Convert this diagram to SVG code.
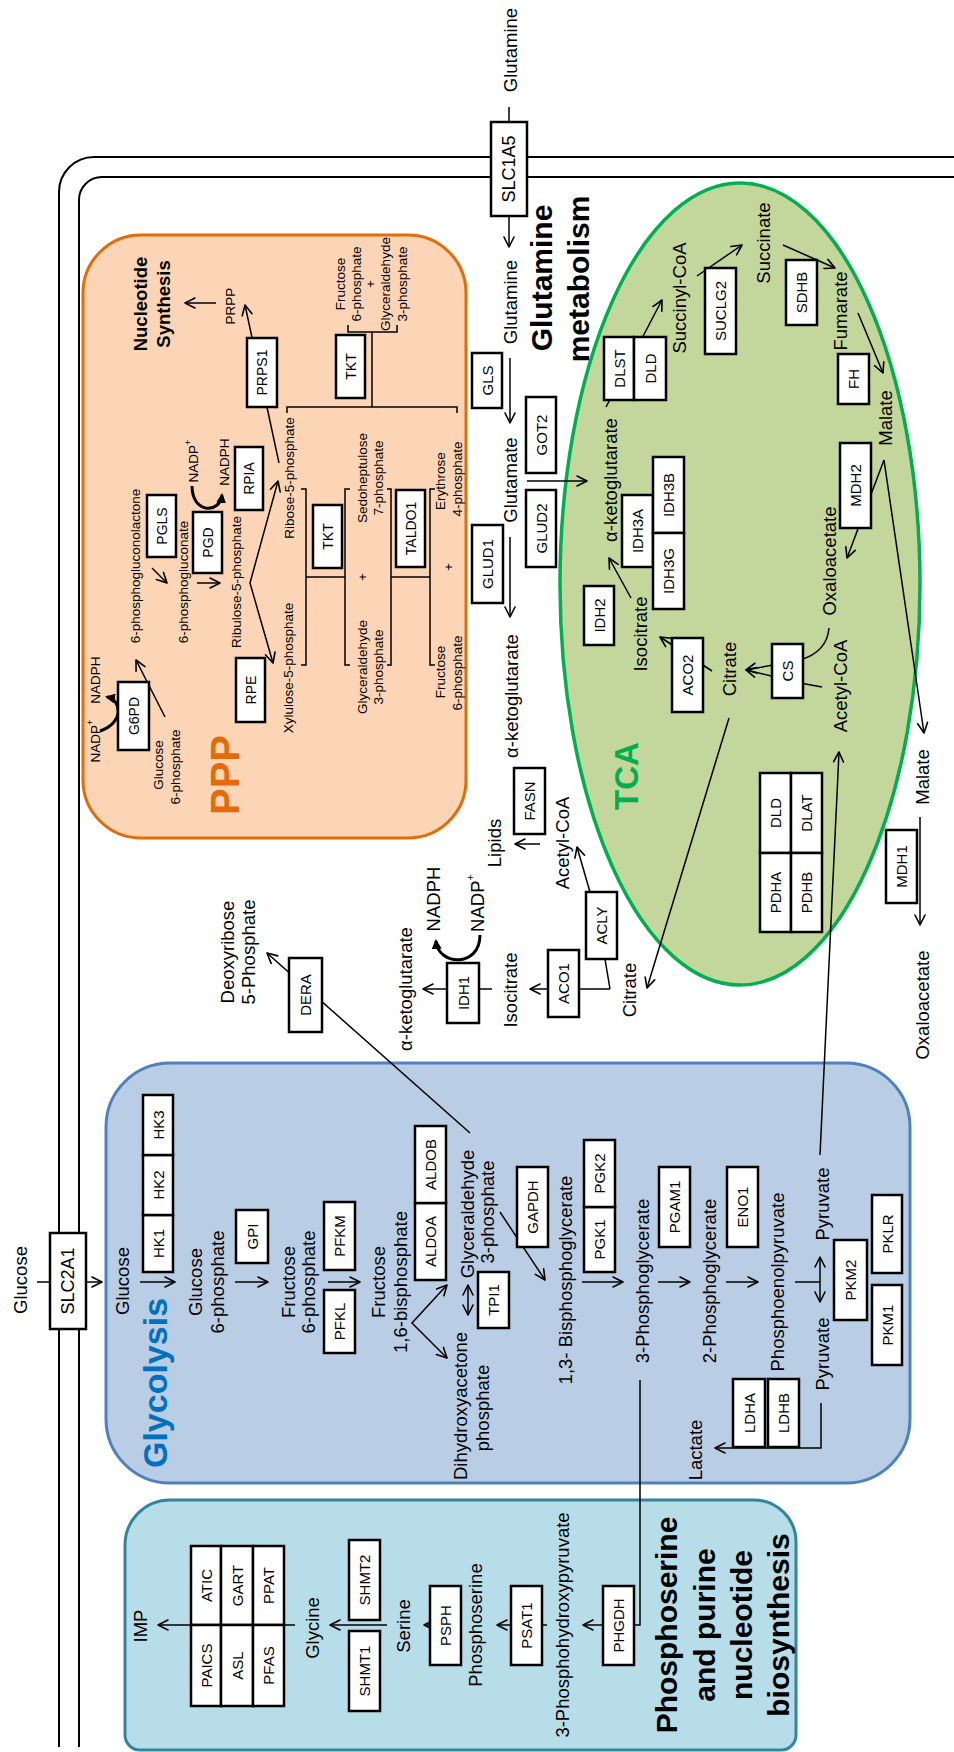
<svg xmlns="http://www.w3.org/2000/svg" width="954" height="1752" viewBox="0 0 954 1752">
<defs>
<style>
.t{font-family:"Liberation Sans",Arial,Helvetica,sans-serif;text-anchor:middle;dominant-baseline:central;fill:#000}
.m{font-size:18.5px}
.e{font-size:15px}
.p{font-size:13.5px}
.pe{font-size:14px}
.tr{font-size:18px}
.hd{font-weight:bold}
.box{fill:#fff;stroke:#000;stroke-width:2.5}
.c path{fill:none;stroke:#000;stroke-width:1.5}
.c path.k{stroke-width:3}
.mem{fill:none;stroke:#000;stroke-width:2}
</style>
<marker id="a" viewBox="0 0 12 12" refX="11" refY="6" markerWidth="12" markerHeight="12" markerUnits="userSpaceOnUse" orient="auto-start-reverse"><path d="M1,1 L11,6 L1,11" fill="none" stroke="#000" stroke-width="1.6" stroke-linecap="round" stroke-linejoin="round"/></marker>
<marker id="f" viewBox="0 0 10 10" refX="8" refY="5" markerWidth="10" markerHeight="10" markerUnits="userSpaceOnUse" orient="auto"><path d="M0,0 L10,5 L0,10 Z" fill="#000"/></marker>
</defs>
<rect width="954" height="1752" fill="#fff"/>

<!-- cell membrane (double line) -->
<g id="membrane">
<path class="mem" d="M954,157 H94 A35,35 0 0 0 59,192 V1747"/>
<path class="mem" d="M954,177 H102 A23,23 0 0 0 79,200 V1747"/>
</g>

<!-- pathway compartments -->
<g id="ppp-area">
<rect x="83" y="235" width="383" height="603" rx="58" fill="#FBD5B5" stroke="#E36C09" stroke-width="3"/>
<text class="t hd" style="font-size:40px;fill:#E36C09" x="225" y="775" transform="rotate(-90 225 775)">PPP</text>
<text class="t m hd" x="140" y="304" transform="rotate(-90 140 304)">Nucleotide</text>
<text class="t m hd" x="163" y="304" transform="rotate(-90 163 304)">Synthesis</text>
</g>
<g id="glycolysis-area">
<rect x="106" y="1063" width="804" height="420" rx="64" fill="#B9CDE5" stroke="#4F81BD" stroke-width="3"/>
<text class="t hd" style="font-size:34px;fill:#0070C0" x="155" y="1383" transform="rotate(-90 155 1383)">Glycolysis</text>
</g>
<g id="tca-area">
<ellipse cx="740" cy="584" rx="180" ry="401" fill="#C3D69B" stroke="#00B050" stroke-width="3.5"/>
<text class="t hd" style="font-size:33px;fill:#00B050" x="626" y="776" transform="rotate(-90 626 776)">TCA</text>
</g>
<g id="serine-area">
<path d="M125,1545 A45,45 0 0 1 170,1500 H754 A42,42 0 0 1 796,1542 V1735 A15,15 0 0 1 781,1750 H140 A15,15 0 0 1 125,1735 Z" fill="#B7DDE8" stroke="#31859C" stroke-width="3"/>
<text class="t hd" style="font-size:30px" x="666" y="1625" transform="rotate(-90 666 1625)">Phosphoserine</text>
<text class="t hd" style="font-size:30px" x="704" y="1625" transform="rotate(-90 704 1625)">and purine</text>
<text class="t hd" style="font-size:30px" x="741" y="1625" transform="rotate(-90 741 1625)">nucleotide</text>
<text class="t hd" style="font-size:30px" x="778" y="1625" transform="rotate(-90 778 1625)">biosynthesis</text>
</g>
<g id="glutamine-title">
<text class="t hd" style="font-size:30px" x="541" y="278" transform="rotate(-90 541 278)">Glutamine</text>
<text class="t hd" style="font-size:30px" x="578" y="279" transform="rotate(-90 578 279)">metabolism</text>
</g>

<!-- reactions -->
<g id="connectors" class="c">
<path d="M509,107 V122"/>
<path d="M509,216 V247" marker-end="url(#a)"/>
<path d="M510,358 V423" marker-end="url(#a)"/>
<path d="M510,537 V617" marker-end="url(#a)"/>
<path d="M527,481 H587" marker-end="url(#a)"/>
<path d="M606,407 L662,300" marker-end="url(#a)"/>
<path d="M697,276 L742,245" marker-end="url(#a)"/>
<path d="M783,245 L835,268" marker-end="url(#a)"/>
<path d="M858,313 L883,373" marker-end="url(#a)"/>
<path d="M884,460 L847,558" marker-end="url(#a)"/>
<path d="M884,460 L924,733" marker-end="url(#a)"/>
<path d="M829,628 Q827,652 800,660 L746,670" marker-end="url(#a)"/>
<path d="M822,687 L800,683 L746,670" marker-end="url(#a)"/>
<path d="M712,671 L660,637" marker-end="url(#a)"/>
<path d="M631,598 L609,558" marker-end="url(#a)"/>
<path d="M729,718 L647,988" marker-end="url(#a)"/>
<path d="M820,1155 L839,752" marker-end="url(#a)"/>
<path d="M920,817 V925" marker-end="url(#a)"/>
<path d="M610,989 H530" marker-end="url(#a)"/>
<path d="M610,989 L605,959"/>
<path d="M590,892 L577,847" marker-end="url(#a)"/>
<path d="M540,844 H515" marker-end="url(#a)"/>
<path d="M492,989 H423" marker-end="url(#a)"/>
<path class="k" d="M480,935 C480,968 438,966 436,941" marker-end="url(#f)"/>
<path d="M470,1133 L267,953" marker-end="url(#a)"/>
<path d="M37,1282 H50"/>
<path d="M86,1282 H102" marker-end="url(#a)"/>
<path d="M140,1282 H175" marker-end="url(#a)"/>
<path d="M235,1282 H268" marker-end="url(#a)"/>
<path d="M328,1282 H360" marker-end="url(#a)"/>
<path d="M447,1285 L412,1323 L447,1358" marker-start="url(#a)" marker-end="url(#a)"/>
<path d="M468,1285 V1315" marker-start="url(#a)" marker-end="url(#a)"/>
<path d="M500,1212 L545,1280" marker-end="url(#a)"/>
<path d="M582,1282 H623" marker-end="url(#a)"/>
<path d="M658,1282 H690" marker-end="url(#a)"/>
<path d="M726,1282 H758" marker-end="url(#a)"/>
<path d="M795,1282 H820"/>
<path d="M820,1257 V1302" marker-start="url(#a)" marker-end="url(#a)"/>
<path d="M821,1403 V1448 H715" marker-end="url(#a)"/>
<path d="M640,1380 V1625 H583" marker-end="url(#a)"/>
<path d="M547,1625 H497" marker-end="url(#a)"/>
<path d="M462,1625 H424" marker-end="url(#a)"/>
<path d="M387,1625 H330" marker-end="url(#a)"/>
<path d="M295,1625 H158" marker-end="url(#a)"/>
<path d="M165,717 L136,660" marker-end="url(#a)"/>
<path class="k" d="M100,731 C124,723 122,700 107,697" marker-end="url(#f)"/>
<path d="M152,568 L167,583" marker-end="url(#a)"/>
<path d="M197,583 H220" marker-end="url(#a)"/>
<path class="k" d="M192,486 C192,514 220,514 222,495" marker-end="url(#f)"/>
<path d="M278,481 L250,583 L273,663" marker-start="url(#a)" marker-end="url(#a)"/>
<path d="M279,463 L245,305" marker-end="url(#a)"/>
<path d="M216,303 H185" marker-end="url(#a)"/>
<path d="M287,413 V407 H457 V413"/>
<path d="M372,407 V332"/>
<path d="M348,325 V332 H397 V325"/>
<path d="M301,489 H306 V665 H301"/>
<path d="M306,577 H345"/>
<path d="M350,489 H345 V665 H350"/>
<path d="M387,489 H391 V665 H387"/>
<path d="M391,577 H430"/>
<path d="M435,489 H430 V665 H435"/>
</g>

<!-- transporters -->
<g id="SLC1A5"><rect class="box" x="491" y="122" width="36" height="94"/><text class="t tr" x="509" y="169" transform="rotate(-90 509 169)">SLC1A5</text></g>
<g id="SLC2A1"><rect class="box" x="50" y="1233" width="36" height="96"/><text class="t tr" x="68" y="1281" transform="rotate(-90 68 1281)">SLC2A1</text></g>

<!-- glutamine metabolism enzymes -->
<g id="GLS"><rect class="box" x="472" y="353" width="30" height="55"/><text class="t e" x="487" y="380.5" transform="rotate(-90 487 380.5)">GLS</text></g>
<g id="GOT2"><rect class="box" x="526" y="397" width="30" height="76"/><text class="t e" x="541" y="435" transform="rotate(-90 541 435)">GOT2</text></g>
<g id="GLUD1"><rect class="box" x="472" y="525" width="31" height="78"/><text class="t e" x="487.5" y="564" transform="rotate(-90 487.5 564)">GLUD1</text></g>
<g id="GLUD2"><rect class="box" x="526" y="490" width="30" height="77"/><text class="t e" x="541" y="528.5" transform="rotate(-90 541 528.5)">GLUD2</text></g>

<!-- TCA enzymes -->
<g id="IDH2"><rect class="box" x="584" y="586" width="30" height="59"/><text class="t e" x="599" y="615.5" transform="rotate(-90 599 615.5)">IDH2</text></g>
<g id="IDH3A"><rect class="box" x="622" y="495" width="31" height="72"/><text class="t e" x="637.5" y="531" transform="rotate(-90 637.5 531)">IDH3A</text></g>
<g id="IDH3B"><rect class="box" x="653" y="457" width="31" height="76"/><text class="t e" x="668.5" y="495" transform="rotate(-90 668.5 495)">IDH3B</text></g>
<g id="IDH3G"><rect class="box" x="653" y="533" width="31" height="76"/><text class="t e" x="668.5" y="571" transform="rotate(-90 668.5 571)">IDH3G</text></g>
<g id="ACO2"><rect class="box" x="672" y="638" width="31" height="74"/><text class="t e" x="687.5" y="675" transform="rotate(-90 687.5 675)">ACO2</text></g>
<g id="CS"><rect class="box" x="772" y="644" width="31" height="54"/><text class="t e" x="787.5" y="671" transform="rotate(-90 787.5 671)">CS</text></g>
<g id="MDH2"><rect class="box" x="840" y="443" width="31" height="85"/><text class="t e" x="855.5" y="485.5" transform="rotate(-90 855.5 485.5)">MDH2</text></g>
<g id="DLST"><rect class="box" x="604" y="337" width="30" height="63"/><text class="t e" x="619" y="368.5" transform="rotate(-90 619 368.5)">DLST</text></g>
<g id="DLD-kgdh"><rect class="box" x="634" y="337" width="32" height="63"/><text class="t e" x="650" y="368.5" transform="rotate(-90 650 368.5)">DLD</text></g>
<g id="SUCLG2"><rect class="box" x="705" y="268" width="31" height="86"/><text class="t e" x="720.5" y="311" transform="rotate(-90 720.5 311)">SUCLG2</text></g>
<g id="SDHB"><rect class="box" x="786" y="260" width="31" height="65"/><text class="t e" x="801.5" y="292.5" transform="rotate(-90 801.5 292.5)">SDHB</text></g>
<g id="FH"><rect class="box" x="838" y="354" width="31" height="50"/><text class="t e" x="853.5" y="379" transform="rotate(-90 853.5 379)">FH</text></g>
<g id="DLD-pdh"><rect class="box" x="760" y="773" width="31" height="80"/><text class="t e" x="775.5" y="813" transform="rotate(-90 775.5 813)">DLD</text></g>
<g id="DLAT"><rect class="box" x="791" y="773" width="31" height="80"/><text class="t e" x="806.5" y="813" transform="rotate(-90 806.5 813)">DLAT</text></g>
<g id="PDHA"><rect class="box" x="760" y="853" width="31" height="79"/><text class="t e" x="775.5" y="892.5" transform="rotate(-90 775.5 892.5)">PDHA</text></g>
<g id="PDHB"><rect class="box" x="791" y="853" width="31" height="79"/><text class="t e" x="806.5" y="892.5" transform="rotate(-90 806.5 892.5)">PDHB</text></g>
<g id="MDH1"><rect class="box" x="886" y="830" width="31" height="73"/><text class="t e" x="901.5" y="866.5" transform="rotate(-90 901.5 866.5)">MDH1</text></g>

<!-- cytosolic enzymes -->
<g id="ACLY"><rect class="box" x="586" y="892" width="31" height="67"/><text class="t e" x="601.5" y="925.5" transform="rotate(-90 601.5 925.5)">ACLY</text></g>
<g id="ACO1"><rect class="box" x="548" y="950" width="31" height="67"/><text class="t e" x="563.5" y="983.5" transform="rotate(-90 563.5 983.5)">ACO1</text></g>
<g id="FASN"><rect class="box" x="514" y="768" width="31" height="66"/><text class="t e" x="529.5" y="801" transform="rotate(-90 529.5 801)">FASN</text></g>
<g id="IDH1"><rect class="box" x="447" y="963" width="32" height="60"/><text class="t e" x="463" y="993" transform="rotate(-90 463 993)">IDH1</text></g>
<g id="DERA"><rect class="box" x="289" y="958" width="33" height="74"/><text class="t e" x="305.5" y="995" transform="rotate(-90 305.5 995)">DERA</text></g>

<!-- glycolysis enzymes -->
<g id="HK1"><rect class="box" x="143" y="1215" width="30" height="57"/><text class="t e" x="158" y="1243.5" transform="rotate(-90 158 1243.5)">HK1</text></g>
<g id="HK2"><rect class="box" x="143" y="1155" width="30" height="60"/><text class="t e" x="158" y="1185" transform="rotate(-90 158 1185)">HK2</text></g>
<g id="HK3"><rect class="box" x="143" y="1095" width="30" height="60"/><text class="t e" x="158" y="1125" transform="rotate(-90 158 1125)">HK3</text></g>
<g id="GPI"><rect class="box" x="236" y="1210" width="32" height="53"/><text class="t e" x="252" y="1236.5" transform="rotate(-90 252 1236.5)">GPI</text></g>
<g id="PFKM"><rect class="box" x="324" y="1202" width="31" height="68"/><text class="t e" x="339.5" y="1236" transform="rotate(-90 339.5 1236)">PFKM</text></g>
<g id="PFKL"><rect class="box" x="324" y="1290" width="31" height="63"/><text class="t e" x="339.5" y="1321.5" transform="rotate(-90 339.5 1321.5)">PFKL</text></g>
<g id="ALDOA"><rect class="box" x="415" y="1203" width="31" height="77"/><text class="t e" x="430.5" y="1241.5" transform="rotate(-90 430.5 1241.5)">ALDOA</text></g>
<g id="ALDOB"><rect class="box" x="415" y="1126" width="31" height="77"/><text class="t e" x="430.5" y="1164.5" transform="rotate(-90 430.5 1164.5)">ALDOB</text></g>
<g id="TPI1"><rect class="box" x="478" y="1272" width="31" height="56"/><text class="t e" x="493.5" y="1300" transform="rotate(-90 493.5 1300)">TPI1</text></g>
<g id="GAPDH"><rect class="box" x="517" y="1167" width="31" height="80"/><text class="t e" x="532.5" y="1207" transform="rotate(-90 532.5 1207)">GAPDH</text></g>
<g id="PGK1"><rect class="box" x="584" y="1207" width="31" height="65"/><text class="t e" x="599.5" y="1239.5" transform="rotate(-90 599.5 1239.5)">PGK1</text></g>
<g id="PGK2"><rect class="box" x="584" y="1140" width="31" height="67"/><text class="t e" x="599.5" y="1173.5" transform="rotate(-90 599.5 1173.5)">PGK2</text></g>
<g id="PGAM1"><rect class="box" x="659" y="1167" width="31" height="80"/><text class="t e" x="674.5" y="1207" transform="rotate(-90 674.5 1207)">PGAM1</text></g>
<g id="ENO1"><rect class="box" x="727" y="1167" width="31" height="80"/><text class="t e" x="742.5" y="1207" transform="rotate(-90 742.5 1207)">ENO1</text></g>
<g id="PKM2"><rect class="box" x="834" y="1240" width="33" height="80"/><text class="t e" x="850.5" y="1280" transform="rotate(-90 850.5 1280)">PKM2</text></g>
<g id="PKLR"><rect class="box" x="872" y="1195" width="30" height="78"/><text class="t e" x="887" y="1234" transform="rotate(-90 887 1234)">PKLR</text></g>
<g id="PKM1"><rect class="box" x="872" y="1285" width="30" height="80"/><text class="t e" x="887" y="1325" transform="rotate(-90 887 1325)">PKM1</text></g>
<g id="LDHA"><rect class="box" x="733" y="1379" width="32" height="68"/><text class="t e" x="749" y="1413" transform="rotate(-90 749 1413)">LDHA</text></g>
<g id="LDHB"><rect class="box" x="768" y="1379" width="31" height="68"/><text class="t e" x="783.5" y="1413" transform="rotate(-90 783.5 1413)">LDHB</text></g>

<!-- serine / purine enzymes -->
<g id="PHGDH"><rect class="box" x="603" y="1586" width="31" height="79"/><text class="t e" x="618.5" y="1625.5" transform="rotate(-90 618.5 1625.5)">PHGDH</text></g>
<g id="PSAT1"><rect class="box" x="511" y="1586" width="31" height="79"/><text class="t e" x="526.5" y="1625.5" transform="rotate(-90 526.5 1625.5)">PSAT1</text></g>
<g id="PSPH"><rect class="box" x="430" y="1586" width="31" height="79"/><text class="t e" x="445.5" y="1625.5" transform="rotate(-90 445.5 1625.5)">PSPH</text></g>
<g id="SHMT2"><rect class="box" x="349" y="1540" width="31" height="80"/><text class="t e" x="364.5" y="1580" transform="rotate(-90 364.5 1580)">SHMT2</text></g>
<g id="SHMT1"><rect class="box" x="349" y="1631" width="31" height="80"/><text class="t e" x="364.5" y="1671" transform="rotate(-90 364.5 1671)">SHMT1</text></g>
<g id="ATIC"><rect class="box" x="191" y="1546" width="30" height="79"/><text class="t e" x="206" y="1585.5" transform="rotate(-90 206 1585.5)">ATIC</text></g>
<g id="GART"><rect class="box" x="221" y="1546" width="32" height="79"/><text class="t e" x="237" y="1585.5" transform="rotate(-90 237 1585.5)">GART</text></g>
<g id="PPAT"><rect class="box" x="253" y="1546" width="31" height="79"/><text class="t e" x="268.5" y="1585.5" transform="rotate(-90 268.5 1585.5)">PPAT</text></g>
<g id="PAICS"><rect class="box" x="191" y="1625" width="30" height="81"/><text class="t e" x="206" y="1665.5" transform="rotate(-90 206 1665.5)">PAICS</text></g>
<g id="ASL"><rect class="box" x="221" y="1625" width="32" height="81"/><text class="t e" x="237" y="1665.5" transform="rotate(-90 237 1665.5)">ASL</text></g>
<g id="PFAS"><rect class="box" x="253" y="1625" width="31" height="81"/><text class="t e" x="268.5" y="1665.5" transform="rotate(-90 268.5 1665.5)">PFAS</text></g>

<!-- PPP enzymes -->
<g id="G6PD"><rect class="box" x="118" y="682" width="31" height="68"/><text class="t pe" x="133.5" y="716" transform="rotate(-90 133.5 716)">G6PD</text></g>
<g id="PGLS"><rect class="box" x="147" y="495" width="29" height="62"/><text class="t pe" x="161.5" y="526" transform="rotate(-90 161.5 526)">PGLS</text></g>
<g id="PGD"><rect class="box" x="193" y="512" width="29" height="61"/><text class="t pe" x="207.5" y="542.5" transform="rotate(-90 207.5 542.5)">PGD</text></g>
<g id="RPIA"><rect class="box" x="235" y="447" width="28" height="63"/><text class="t pe" x="249" y="478.5" transform="rotate(-90 249 478.5)">RPIA</text></g>
<g id="RPE"><rect class="box" x="236" y="658" width="29" height="64"/><text class="t pe" x="250.5" y="690" transform="rotate(-90 250.5 690)">RPE</text></g>
<g id="PRPS1"><rect class="box" x="247" y="338" width="30" height="69"/><text class="t pe" x="262" y="372.5" transform="rotate(-90 262 372.5)">PRPS1</text></g>
<g id="TKT-1"><rect class="box" x="336" y="335" width="29" height="63"/><text class="t pe" x="350.5" y="366.5" transform="rotate(-90 350.5 366.5)">TKT</text></g>
<g id="TKT-2"><rect class="box" x="313" y="505" width="29" height="63"/><text class="t pe" x="327.5" y="536.5" transform="rotate(-90 327.5 536.5)">TKT</text></g>
<g id="TALDO1"><rect class="box" x="396" y="490" width="29" height="77"/><text class="t pe" x="410.5" y="528.5" transform="rotate(-90 410.5 528.5)">TALDO1</text></g>

<!-- metabolites: glutamine / TCA -->
<g id="glutamine-out"><text class="t m" x="510" y="50" transform="rotate(-90 510 50)">Glutamine</text></g>
<g id="glutamine-in"><text class="t m" x="510" y="302" transform="rotate(-90 510 302)">Glutamine</text></g>
<g id="glutamate"><text class="t m" x="510" y="480" transform="rotate(-90 510 480)">Glutamate</text></g>
<g id="akg-cyto"><text class="t m" x="511" y="696" transform="rotate(-90 511 696)">α-ketoglutarate</text></g>
<g id="akg-tca"><text class="t m" x="610" y="480" transform="rotate(-90 610 480)">α-ketoglutarate</text></g>
<g id="succinyl-coa"><text class="t m" x="679" y="298" transform="rotate(-90 679 298)">Succinyl-CoA</text></g>
<g id="succinate"><text class="t m" x="763" y="243" transform="rotate(-90 763 243)">Succinate</text></g>
<g id="fumarate"><text class="t m" x="840" y="311" transform="rotate(-90 840 311)">Fumarate</text></g>
<g id="malate-tca"><text class="t m" x="885" y="418" transform="rotate(-90 885 418)">Malate</text></g>
<g id="oaa-tca"><text class="t m" x="829" y="561" transform="rotate(-90 829 561)">Oxaloacetate</text></g>
<g id="acetylcoa-tca"><text class="t m" x="840" y="686" transform="rotate(-90 840 686)">Acetyl-CoA</text></g>
<g id="citrate-tca"><text class="t m" x="729" y="669" transform="rotate(-90 729 669)">Citrate</text></g>
<g id="isocitrate-tca"><text class="t m" x="640" y="634" transform="rotate(-90 640 634)">Isocitrate</text></g>
<g id="malate-cyto"><text class="t m" x="922" y="777" transform="rotate(-90 922 777)">Malate</text></g>
<g id="oaa-cyto"><text class="t m" x="922" y="1005" transform="rotate(-90 922 1005)">Oxaloacetate</text></g>
<g id="citrate-cyto"><text class="t m" x="629" y="990" transform="rotate(-90 629 990)">Citrate</text></g>
<g id="isocitrate-cyto"><text class="t m" x="510" y="990" transform="rotate(-90 510 990)">Isocitrate</text></g>
<g id="acetylcoa-cyto"><text class="t m" x="562" y="843" transform="rotate(-90 562 843)">Acetyl-CoA</text></g>
<g id="lipids"><text class="t m" x="494" y="843" transform="rotate(-90 494 843)">Lipids</text></g>
<g id="akg-idh1"><text class="t m" x="405" y="989" transform="rotate(-90 405 989)">α-ketoglutarate</text></g>
<g id="nadph-idh1"><text class="t m" x="433" y="899" transform="rotate(-90 433 899)">NADPH</text></g>
<g id="nadp-idh1"><text class="t m" x="477" y="903" transform="rotate(-90 477 903)">NADP<tspan style="font-size:11px" dy="-7">+</tspan></text></g>
<g id="deoxyribose-5p"><text class="t m" x="227" y="952" transform="rotate(-90 227 952)">Deoxyribose</text><text class="t m" x="248" y="952" transform="rotate(-90 248 952)">5-Phosphate</text></g>

<!-- metabolites: glycolysis -->
<g id="glucose-out"><text class="t m" x="20" y="1280" transform="rotate(-90 20 1280)">Glucose</text></g>
<g id="glucose-in"><text class="t m" x="122" y="1281" transform="rotate(-90 122 1281)">Glucose</text></g>
<g id="g6p"><text class="t m" x="195" y="1282" transform="rotate(-90 195 1282)">Glucose</text><text class="t m" x="217" y="1282" transform="rotate(-90 217 1282)">6-phosphate</text></g>
<g id="f6p"><text class="t m" x="288" y="1282" transform="rotate(-90 288 1282)">Fructose</text><text class="t m" x="308" y="1282" transform="rotate(-90 308 1282)">6-phosphate</text></g>
<g id="f16bp"><text class="t m" x="378" y="1282" transform="rotate(-90 378 1282)">Fructose</text><text class="t m" x="400" y="1282" transform="rotate(-90 400 1282)">1,6-bisphosphate</text></g>
<g id="g3p"><text class="t m" x="467" y="1214" transform="rotate(-90 467 1214)">Glyceraldehyde</text><text class="t m" x="487" y="1212" transform="rotate(-90 487 1212)">3-phosphate</text></g>
<g id="dhap"><text class="t m" x="460" y="1406" transform="rotate(-90 460 1406)">Dihydroxyacetone</text><text class="t m" x="482" y="1408" transform="rotate(-90 482 1408)">phosphate</text></g>
<g id="bpg"><text class="t m" x="565" y="1280" transform="rotate(-90 565 1280)">1,3- Bisphosphoglycerate</text></g>
<g id="pg3"><text class="t m" x="642" y="1281" transform="rotate(-90 642 1281)">3-Phosphoglycerate</text></g>
<g id="pg2"><text class="t m" x="709" y="1281" transform="rotate(-90 709 1281)">2-Phosphoglycerate</text></g>
<g id="pep"><text class="t m" x="777" y="1282" transform="rotate(-90 777 1282)">Phosphoenolpyruvate</text></g>
<g id="pyruvate-1"><text class="t m" x="822" y="1204" transform="rotate(-90 822 1204)">Pyruvate</text></g>
<g id="pyruvate-2"><text class="t m" x="822" y="1354" transform="rotate(-90 822 1354)">Pyruvate</text></g>
<g id="lactate"><text class="t m" x="695" y="1450" transform="rotate(-90 695 1450)">Lactate</text></g>

<!-- metabolites: serine / purine -->
<g id="php"><text class="t m" x="562" y="1625" transform="rotate(-90 562 1625)">3-Phosphohydroxypyruvate</text></g>
<g id="phosphoserine"><text class="t m" x="475" y="1625" transform="rotate(-90 475 1625)">Phosphoserine</text></g>
<g id="serine"><text class="t m" x="403" y="1626" transform="rotate(-90 403 1626)">Serine</text></g>
<g id="glycine"><text class="t m" x="312" y="1628" transform="rotate(-90 312 1628)">Glycine</text></g>
<g id="imp"><text class="t m" x="140" y="1626" transform="rotate(-90 140 1626)">IMP</text></g>

<!-- metabolites: PPP -->
<g id="ppp-g6p"><text class="t p" x="158" y="765" transform="rotate(-90 158 765)">Glucose</text><text class="t p" x="175" y="767" transform="rotate(-90 175 767)">6-phosphate</text></g>
<g id="nadp-g6pd"><text class="t p" x="95" y="741" transform="rotate(-90 95 741)">NADP<tspan style="font-size:9px" dy="-5">+</tspan></text></g>
<g id="nadph-g6pd"><text class="t p" x="95" y="680" transform="rotate(-90 95 680)">NADPH</text></g>
<g id="pgl"><text class="t p" x="135" y="566" transform="rotate(-90 135 566)">6-phosphogluconolactone</text></g>
<g id="pgn"><text class="t p" x="183" y="582" transform="rotate(-90 183 582)">6-phosphogluconate</text></g>
<g id="nadp-pgd"><text class="t p" x="193" y="461" transform="rotate(-90 193 461)">NADP<tspan style="font-size:9px" dy="-5">+</tspan></text></g>
<g id="nadph-pgd"><text class="t p" x="224" y="462" transform="rotate(-90 224 462)">NADPH</text></g>
<g id="ru5p"><text class="t p" x="236" y="582" transform="rotate(-90 236 582)">Ribulose-5-phosphate</text></g>
<g id="r5p"><text class="t p" x="289" y="478" transform="rotate(-90 289 478)">Ribose-5-phosphate</text></g>
<g id="xu5p"><text class="t p" x="288" y="668" transform="rotate(-90 288 668)">Xylulose-5-phosphate</text></g>
<g id="prpp"><text class="t p" x="230" y="306" transform="rotate(-90 230 306)">PRPP</text></g>
<g id="f6p-g3p"><text class="t p" x="340" y="284" transform="rotate(-90 340 284)">Fructose</text><text class="t p" x="356" y="284" transform="rotate(-90 356 284)">6-phosphate</text><text class="t p" x="370" y="284" transform="rotate(-90 370 284)">+</text><text class="t p" x="385" y="284" transform="rotate(-90 385 284)">Glyceraldehyde</text><text class="t p" x="402" y="284" transform="rotate(-90 402 284)">3-phosphate</text></g>
<g id="s7p"><text class="t p" x="362" y="478" transform="rotate(-90 362 478)">Sedoheptulose</text><text class="t p" x="378" y="478" transform="rotate(-90 378 478)">7-phosphate</text></g>
<g id="plus-1"><text class="t p" x="362" y="577" transform="rotate(-90 362 577)">+</text></g>
<g id="ppp-g3p"><text class="t p" x="362" y="667" transform="rotate(-90 362 667)">Glyceraldehyde</text><text class="t p" x="378" y="667" transform="rotate(-90 378 667)">3-phosphate</text></g>
<g id="e4p"><text class="t p" x="440" y="481" transform="rotate(-90 440 481)">Erythrose</text><text class="t p" x="457" y="479" transform="rotate(-90 457 479)">4-phosphate</text></g>
<g id="plus-2"><text class="t p" x="448" y="567" transform="rotate(-90 448 567)">+</text></g>
<g id="ppp-f6p"><text class="t p" x="440" y="672" transform="rotate(-90 440 672)">Fructose</text><text class="t p" x="457" y="673" transform="rotate(-90 457 673)">6-phosphate</text></g>
</svg>
